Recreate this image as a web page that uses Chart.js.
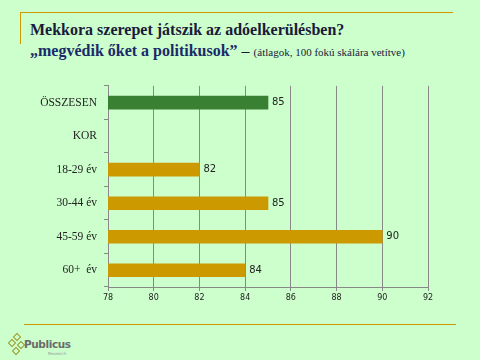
<!DOCTYPE html>
<html><head><meta charset="utf-8">
<script src="https://cdn.jsdelivr.net/npm/chart.js@4"></script>
<style>
html,body{margin:0;padding:0;}
body{width:480px;height:360px;background:#CCFFCC;position:relative;overflow:hidden;font-family:"Liberation Serif","DejaVu Serif",serif;}
#topline{position:absolute;left:20px;top:12px;width:433px;height:1px;background:#CC9900;}
#leftline{position:absolute;left:20px;top:12px;width:1px;height:32px;background:#CC9900;}
#botline{position:absolute;left:24px;width:432px;height:1px;background:#CC9900;top:324px;}
#title{position:absolute;left:30px;top:21px;font-size:16px;font-weight:bold;color:#1a1a3a;white-space:nowrap;}
#sub{position:absolute;left:30px;top:42px;white-space:nowrap;color:#1a1a3a;}
#sub .a{font-size:16px;color:#1a2a6a;font-weight:600;}
#sub .b{font-size:11px;}
#wrap{position:absolute;left:0;top:72px;width:470px;height:235px;}
#logo{position:absolute;left:8px;top:333px;width:70px;height:26px;}
#logo .t{position:absolute;left:16px;top:5px;font-family:"DejaVu Sans",sans-serif;font-weight:bold;font-size:10.5px;color:#6b6b6b;white-space:nowrap;letter-spacing:-0.4px;}
#logo .r{position:absolute;left:40px;top:18px;font-family:"DejaVu Sans",sans-serif;font-size:4px;color:#999;}
.d{position:absolute;width:4px;height:4px;border:1.5px solid #9a9a2a;transform:rotate(45deg);}
</style></head><body>
<div id="topline"></div><div id="leftline"></div>
<div id="title">Mekkora szerepet játszik az adóelkerülésben?</div>
<div id="sub"><span class="a">„megvédik őket a politikusok”</span> – <span class="b">(átlagok, 100 fokú skálára vetítve)</span></div>
<div id="wrap"><canvas id="c"></canvas></div>
<div id="botline"></div>
<div id="logo"><div class="d" style="left:6px;top:1px"></div><div class="d" style="left:1px;top:7px"></div><div class="d" style="left:10px;top:9px"></div><div class="d" style="left:5px;top:15px"></div><span class="t">Publicus</span><span class="r">Research</span></div>
<script>
const categories = ["ÖSSZESEN", "KOR", "18-29 év", "30-44 év", "45-59 év", "60+  év"];
const values = [85, null, 82, 85, 90, 84];
const barColors = ["#3A8033", "#CC9900", "#CC9900", "#CC9900", "#CC9900", "#CC9900"];
const xMin = 78, xMax = 92, xStep = 2;

const labelPlugin = {
  id: 'vals',
  afterDatasetsDraw(chart) {
    const ctx = chart.ctx;
    const meta = chart.getDatasetMeta(0);
    ctx.save();
    ctx.font = '10px "DejaVu Sans", sans-serif';
    ctx.fillStyle = '#222';
    ctx.textBaseline = 'middle';
    meta.data.forEach((el, i) => {
      if (values[i] == null) return;
      ctx.fillText(String(values[i]), el.x + 4, el.y);
    });
    ctx.restore();
  }
};

new Chart(document.getElementById('c'), {
  type: 'bar',
  data: { labels: categories, datasets: [{ data: values.map(v => v == null ? null : [xMin, v]), backgroundColor: barColors, barThickness: 13, borderWidth: 0 }] },
  options: {
    indexAxis: 'y', responsive: true, maintainAspectRatio: false, animation: false,
    layout: { padding: { top: 5, right: 42, bottom: 0, left: 0 } },
    plugins: { legend: { display: false }, tooltip: { enabled: false } },
    scales: {
      x: {
        min: xMin, max: xMax,
        ticks: { stepSize: xStep, color: '#222', font: { family: '"DejaVu Sans", sans-serif', size: 8 }, padding: 2 },
        grid: { color: '#888888', lineWidth: 1, tickLength: 4, tickColor: '#888888' },
        border: { color: '#888888' },
        afterFit(s) { s.height = 20; }
      },
      y: {
        offset: true,
        ticks: { color: '#222', font: { family: '"Liberation Serif", serif', size: 11.5 }, padding: 7 },
        grid: { offset: true, drawOnChartArea: false, tickLength: 4, color: '#888888' },
        border: { color: '#888888' },
        afterFit(s) { s.width = 108; }
      }
    }
  },
  plugins: [labelPlugin]
});
</script>
</body></html>
